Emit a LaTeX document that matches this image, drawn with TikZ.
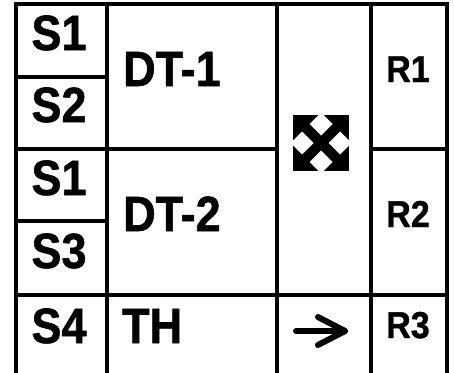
\documentclass[tikz,border=0pt]{standalone}
\usepackage{fontspec}
\usepackage{graphicx}
\setmainfont{Liberation Sans}
\newfontfamily\heavyfont[FakeBold=1.2]{Liberation Sans Bold}
\begin{document}
\begin{tikzpicture}[x=1pt,y=-1pt,
  grid/.style={line width=3.2pt,line cap=rect},
  big/.style={font=\fontsize{45}{50}\heavyfont,inner sep=0pt},
  small/.style={font=\fontsize{34}{40}\heavyfont,inner sep=0pt}]
\useasboundingbox (0,0) rectangle (454,372);
\fill[white] (0,0) rectangle (454,372);
% grid
\draw[grid] (16,372) -- (16,4) -- (447,4) -- (447,372);
\draw[grid] (107,4) -- (107,372);
\draw[grid] (277,4) -- (277,372);
\draw[grid] (371,4) -- (371,372);
\draw[grid] (16,77) -- (107,77);
\draw[grid] (16,221) -- (107,221);
\draw[grid] (16,149) -- (277,149);
\draw[grid] (371,149) -- (447,149);
\draw[grid] (16,295) -- (447,295);
% labels
\node[big,anchor=base] (s1a) at (59,50) {\scalebox{1}[1.1]{S1}};
\node[big,anchor=base] (s2) at (59,122) {\scalebox{1}[1.1]{S2}};
\node[big,anchor=base] (s1b) at (59,195) {\scalebox{1}[1.1]{S1}};
\node[big,anchor=base] (s3) at (59,268) {\scalebox{1}[1.1]{S3}};
\node[big,anchor=base] (s4) at (59,343) {\scalebox{1}[1.1]{S4}};
\node[big,anchor=base west] (dt1) at (123,86) {\scalebox{1}[1.1]{DT-1}};
\node[big,anchor=base west] (dt2) at (123,231) {\scalebox{1}[1.1]{DT-2}};
\node[big,anchor=base west] (th) at (122,343) {\scalebox{1}[1.1]{TH}};
\node[small,anchor=base] (r1) at (408,82) {\scalebox{1}[1.1]{R1}};
\node[small,anchor=base] (r2) at (408,227) {\scalebox{1}[1.1]{R2}};
\node[small,anchor=base] (r3) at (408,338) {\scalebox{1}[1.1]{R3}};
% move icon
\begin{scope}
\clip (293,115) rectangle (349,171);
\fill[black] (293,115) rectangle (349,171);
\foreach \cx/\cy in {321/124, 321/162, 302/143, 340/143}{
  \fill[white] (\cx,\cy-11.5) -- (\cx+11.5,\cy) -- (\cx,\cy+11.5) -- (\cx-11.5,\cy) -- cycle;
}
\end{scope}
% arrow
\draw[line width=6pt,line cap=round,line join=round] (296,331) -- (345,331);
\draw[line width=6pt,line cap=round,line join=round] (318,317) -- (345,331) -- (318,345);
\end{tikzpicture}
\end{document}
